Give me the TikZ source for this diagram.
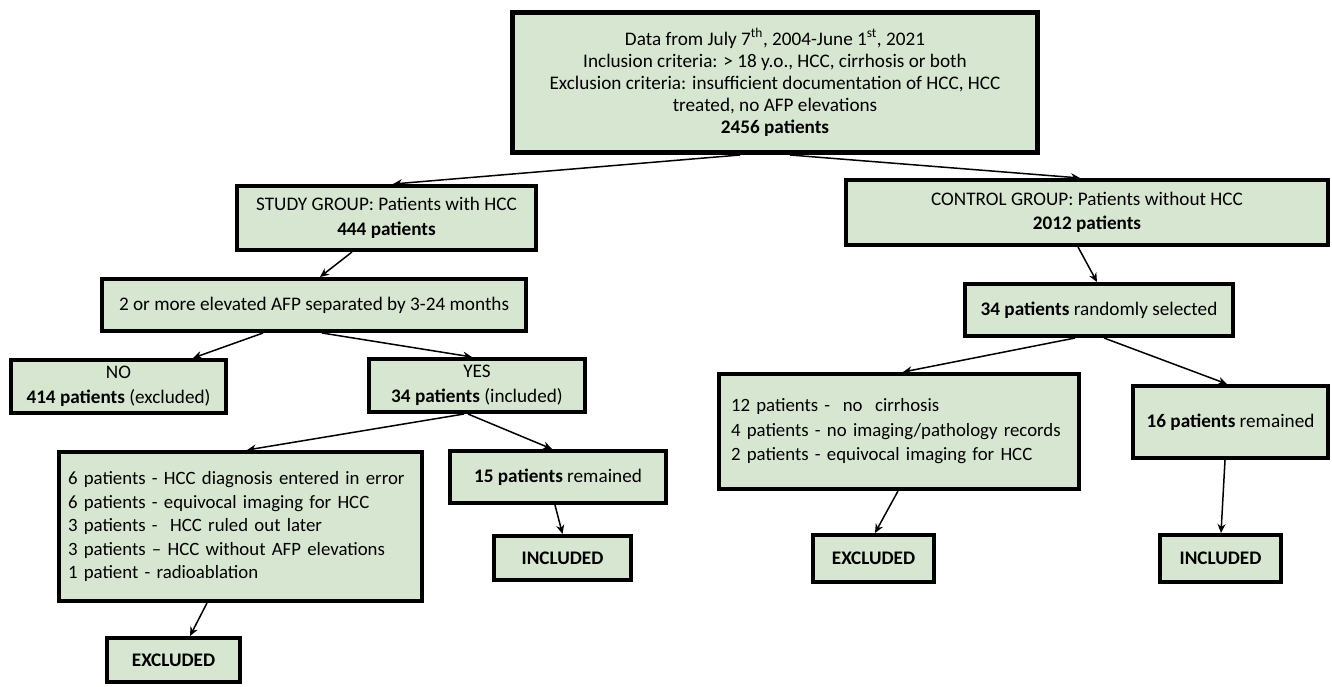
\documentclass[tikz,border=0pt]{standalone}
\usepackage{fontspec}
\setmainfont{Carlito}
\usetikzlibrary{arrows.meta}
\definecolor{boxgreen}{RGB}{215,230,209}
\tikzset{
  box/.style={draw=black, line width=4pt, fill=boxgreen, align=center, inner sep=0pt,
    font=\fontsize{19.2}{24.5}\selectfont},
  arr/.style={line width=1.5pt, -{Stealth[length=9pt,width=8pt]}},
}
\begin{document}
\begin{tikzpicture}[x=1pt,y=-1pt]
\useasboundingbox (0,0) rectangle (1332,686);
\node[box, line width=5pt, minimum width=525pt, minimum height=140pt, font=\fontsize{19.2}{22}\selectfont] (top) at (775,82.5)
  {Data from July 7\textsuperscript{th}, 2004-June 1\textsuperscript{st}, 2021\\
   Inclusion criteria: > 18 y.o., HCC, cirrhosis or both\\
   Exclusion criteria: insufficient documentation of HCC, HCC\\
   treated, no AFP elevations\\
   \textbf{2456 patients}};
\node[box, minimum width=299pt, minimum height=64pt] (study) at (386.5,218)
  {STUDY GROUP: Patients with HCC\\\textbf{444 patients}};
\node[box, minimum width=482pt, minimum height=65pt] (control) at (1087,212.5)
  {CONTROL GROUP: Patients without HCC\\\textbf{2012 patients}};
\node[box, minimum width=424pt, minimum height=52pt] (afp) at (314,305)
  {2 or more elevated AFP separated by 3-24 months};
\node[box, minimum width=268pt, minimum height=52pt] (rand) at (1099,310)
  {\textbf{34 patients} randomly selected};
\node[box, minimum width=215pt, minimum height=53pt] (no) at (118.5,386.5)
  {NO\\\textbf{414 patients} (excluded)};
\node[box, minimum width=216pt, minimum height=53pt] (yes) at (477,385.5)
  {YES\\\textbf{34 patients} (included)};
\node[box, minimum width=363pt, minimum height=149pt, text width=345pt, align=left,
  font=\fontsize{18.8}{23.5}\selectfont] (hcc) at (240.5,526.5)
  {6 patients - HCC diagnosis entered in error\\
   6 patients - equivocal imaging for HCC\\
   3 patients -\ \ HCC ruled out later\\
   3 patients -- HCC without AFP elevations\\
   1 patient - radioablation};
\node[box, minimum width=216pt, minimum height=52pt] (rem15) at (558,477)
  {\textbf{15 patients} remained};
\node[box, minimum width=137pt, minimum height=44pt] (inc1) at (562.5,558)
  {\textbf{INCLUDED}};
\node[box, minimum width=133pt, minimum height=44pt] (exc1) at (173.5,660)
  {\textbf{EXCLUDED}};
\node[box, minimum width=360pt, minimum height=115pt, text width=336pt, align=left,
  font=\fontsize{18.8}{24.5}\selectfont] (clist) at (899,431.5)
  {12 patients -\ \ no\ \ cirrhosis\\
   4 patients - no imaging/pathology records\\
   2 patients - equivocal imaging for HCC};
\node[box, minimum width=195pt, minimum height=72pt] (rem16) at (1230.5,422)
  {\textbf{16 patients} remained};
\node[box, minimum width=121pt, minimum height=47pt] (exc2) at (873.5,558.5)
  {\textbf{EXCLUDED}};
\node[box, minimum width=121pt, minimum height=47pt] (inc2) at (1220.5,558.5)
  {\textbf{INCLUDED}};
% connectors
\draw[arr] ([xshift=-35pt]top.south) -- ([xshift=6.5pt]study.north);
\draw[arr] ([xshift=15pt]top.south) -- ([xshift=-7pt]control.north);
\draw[arr] ([xshift=-34.5pt]study.south) -- ([xshift=6pt]afp.north);
\draw[arr] ([xshift=-51pt]afp.south) -- ([xshift=74.5pt]no.north);
\draw[arr] ([xshift=8pt]afp.south) -- ([xshift=-5pt]yes.north);
\draw[arr] ([xshift=-13pt]yes.south) -- ([xshift=6.5pt]hcc.north);
\draw[arr] ([xshift=-9pt]yes.south) -- ([xshift=-6pt]rem15.north);
\draw[arr] ([xshift=-33.5pt]hcc.south) -- ([xshift=16.5pt]exc1.north);
\draw[arr] ([xshift=-3pt]rem15.south) -- (inc1.north);
\draw[arr] ([xshift=-9pt]control.south) -- ([xshift=-2pt]rand.north);
\draw[arr] ([xshift=-24pt]rand.south) -- ([xshift=4pt]clist.north);
\draw[arr] ([xshift=5pt]rand.south) -- ([xshift=-3.5pt]rem16.north);
\draw[arr] ([xshift=-1pt]clist.south) -- ([xshift=1.5pt]exc2.north);
\draw[arr] ([xshift=-5.5pt]rem16.south) -- ([xshift=0.5pt]inc2.north);
\end{tikzpicture}
\end{document}
